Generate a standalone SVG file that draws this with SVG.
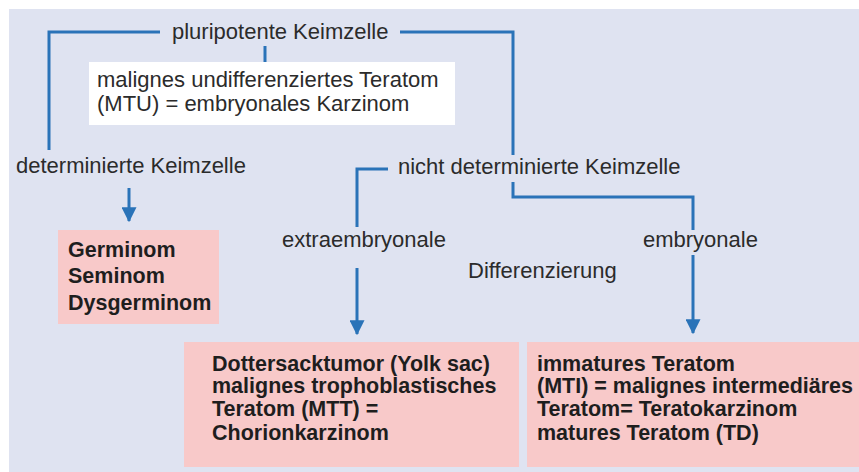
<svg xmlns="http://www.w3.org/2000/svg" width="859" height="472" viewBox="0 0 859 472">
<style>
.t{font-family:"Liberation Sans",Arial,sans-serif;font-size:22px;fill:#2b2b2b}
.b{font-family:"Liberation Sans",Arial,sans-serif;font-size:21.5px;font-weight:bold;fill:#1e1e1e}
.ln{fill:none;stroke:#2a73b8;stroke-width:3}
.pink{fill:#f8c9c9}
</style>
<defs>
<marker id="ah" markerWidth="5" markerHeight="5" refX="4.6" refY="2.5" orient="auto" markerUnits="strokeWidth">
<path d="M0,0 L5,2.5 L0,5 Z" fill="#2a73b8"/>
</marker>
</defs>
<rect x="0" y="0" width="859" height="472" fill="#ffffff"/>
<rect x="9" y="9" width="850" height="463" fill="#dfe3f1"/>

<g id="connectors">
<polyline class="ln" points="49,150 49,32 160,32"/>
<polyline class="ln" points="400,32 513,32 513,155"/>
<line class="ln" x1="265" y1="46" x2="265" y2="63"/>
<polyline class="ln" points="388,169 357,169 357,227"/>
<polyline class="ln" points="513,182 513,197 693,197 693,230"/>
<line class="ln" x1="129" y1="188" x2="129" y2="221" marker-end="url(#ah)"/>
<line class="ln" x1="357" y1="268" x2="357" y2="334" marker-end="url(#ah)"/>
<line class="ln" x1="693" y1="255" x2="693" y2="333" marker-end="url(#ah)"/>
</g>

<g id="pluripotent">
<text class="t" x="172" y="39">pluripotente Keimzelle</text>
</g>

<g id="mtu">
<rect x="89" y="62" width="366" height="63" fill="#ffffff"/>
<text class="t" x="97" y="87">malignes undifferenziertes Teratom</text>
<text class="t" x="97" y="111">(MTU) = embryonales Karzinom</text>
</g>

<g id="determiniert">
<text class="t" x="16" y="173">determinierte Keimzelle</text>
</g>

<g id="nichtdeterminiert">
<text class="t" x="398" y="174">nicht determinierte Keimzelle</text>
</g>

<g id="extraembryonale">
<text class="t" x="282" y="247">extraembryonale</text>
</g>

<g id="differenzierung">
<text class="t" x="468" y="278">Differenzierung</text>
</g>

<g id="embryonale">
<text class="t" x="643" y="247">embryonale</text>
</g>

<g id="germinom">
<rect class="pink" x="58" y="230" width="161" height="94"/>
<text class="b" x="68" y="257">Germinom</text>
<text class="b" x="68" y="283">Seminom</text>
<text class="b" x="68" y="310">Dysgerminom</text>
</g>

<g id="dottersack">
<rect class="pink" x="184" y="342" width="335" height="125"/>
<text class="b" x="212" y="371">Dottersacktumor (Yolk sac)</text>
<text class="b" x="212" y="393">malignes trophoblastisches</text>
<text class="b" x="212" y="416">Teratom (MTT) =</text>
<text class="b" x="212" y="440">Chorionkarzinom</text>
</g>

<g id="teratom">
<rect class="pink" x="527" y="342" width="332" height="125"/>
<text class="b" x="537" y="371">immatures Teratom</text>
<text class="b" x="537" y="393">(MTI) = malignes intermediäres</text>
<text class="b" x="537" y="416">Teratom= Teratokarzinom</text>
<text class="b" x="537" y="440">matures Teratom (TD)</text>
</g>
</svg>
